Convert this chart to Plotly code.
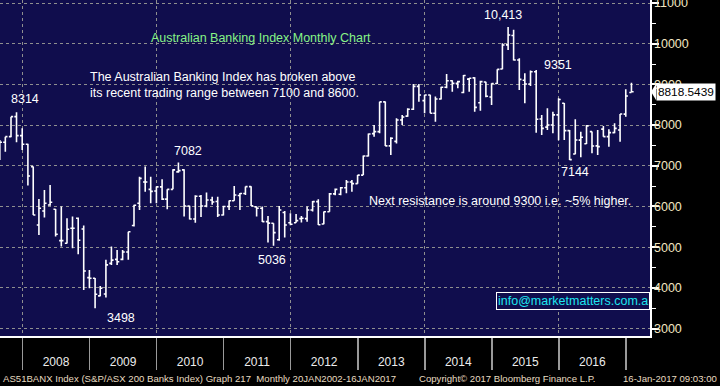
import pandas as pd
import plotly.graph_objects as go

# Monthly bars, Aug 2007 - Jan 2017 (month-end dated)
months = pd.date_range("2007-09-01", periods=114, freq="MS") - pd.Timedelta(days=1)

open_ = [7400, 7577, 7716, 8207, 7740, 7527, 6979, 5545, 5890, 6037,
         5930, 5161, 5095, 5464, 5709, 5447, 4251, 4235, 3801, 3850,
         4600, 4700, 4700, 4880, 5530, 6080, 6600, 6420, 6380, 6480,
         6180, 6420, 6850, 6900, 6010, 5690, 6250, 6010, 6160, 6120,
         5790, 6000, 6140, 6270, 6320, 6487, 5990, 5955, 5627, 5586,
         5180, 5850, 5600, 5600, 5700, 5700, 5914, 6119, 5570, 5870,
         6310, 6300, 6460, 6600, 6560, 6770, 7240, 7790, 7840, 8570,
         7490, 7600, 8125, 8220, 8390, 8950, 8600, 8740, 8290, 8640,
         8930, 9090, 9026, 8800, 9130, 9160, 8550, 9060, 8690, 9020,
         9380, 9970, 10200, 9600, 9100, 9010, 9310, 8150, 7950, 8000,
         8250, 8535, 7863, 7290, 7630, 7540, 7839, 7490, 7900, 7716,
         7814, 7880, 8270, 8800]
high = [7634, 7716, 8207, 8314, 7921, 7540, 6980, 6184, 6405, 6528,
        5940, 5996, 5709, 5750, 5726, 5529, 4440, 4240, 4047, 4690,
        5013, 4930, 4930, 5380, 6040, 6730, 6980, 6730, 6490, 6670,
        6420, 6913, 7082, 6915, 6020, 6275, 6280, 6340, 6240, 6240,
        6020, 6145, 6504, 6330, 6490, 6495, 6000, 5996, 5766, 5590,
        6012, 5890, 5832, 5816, 5766, 5996, 6135, 6176, 5873, 6330,
        6440, 6480, 6651, 6651, 6774, 7250, 7790, 8002, 8576, 8580,
        7700, 8166, 8250, 8412, 9010, 9010, 8745, 8745, 8700, 8940,
        9256, 9100, 9092, 9231, 9160, 9174, 9092, 9067, 9026, 9370,
        10010, 10413, 10340, 9640, 9272, 9340, 9351, 8250, 8412, 8330,
        8660, 8540, 7880, 8142, 7839, 8002, 7840, 7880, 7980, 7896,
        8043, 8273, 8880, 9043]
low = [7143, 7347, 7700, 7577, 7388, 6512, 5791, 5300, 5726, 6020,
       5259, 5013, 5090, 4972, 4825, 3948, 3989, 3498, 3795, 3760,
       4560, 4560, 4680, 4690, 5510, 5915, 6360, 6080, 6080, 6160,
       5930, 6420, 6830, 5750, 5680, 5600, 5740, 5980, 6040, 5740,
       5775, 5915, 6140, 5915, 6280, 6010, 5750, 5620, 5111, 5036,
       5160, 5234, 5540, 5600, 5603, 5627, 5873, 5545, 5560, 5870,
       6275, 6275, 6323, 6364, 6560, 6770, 7225, 7716, 7800, 7486,
       7265, 7550, 8002, 8207, 8370, 8576, 8290, 8290, 8084, 8630,
       8903, 8821, 8903, 8780, 8821, 8330, 8354, 8682, 8494, 9010,
       9370, 9845, 9590, 8862, 8535, 8960, 7814, 7757, 7880, 7800,
       7630, 7634, 7144, 7280, 7208, 7536, 7306, 7265, 7716, 7470,
       7800, 7593, 8207, 8800]
close = [7577, 7716, 8207, 7740, 7527, 6750, 5791, 5955, 6078, 6102,
         5316, 5161, 5439, 5464, 5169, 4415, 4235, 3842, 3989, 4563,
         4680, 4640, 4880, 5380, 6030, 6690, 6600, 6370, 6480, 6180,
         6420, 6900, 6880, 6010, 5690, 6250, 6010, 6160, 6110, 5790,
         6000, 6140, 6283, 6320, 6487, 6015, 5955, 5627, 5590, 5357,
         5914, 5545, 5562, 5652, 5710, 5914, 6119, 5550, 5870, 6310,
         6420, 6460, 6600, 6560, 6770, 7240, 7780, 7840, 8570, 7490,
         7675, 8125, 8200, 8390, 8950, 8740, 8740, 8290, 8640, 8930,
         9090, 9026, 9067, 9220, 9150, 8436, 9067, 8710, 9020, 9370,
         9968, 10214, 9600, 9124, 9010, 9310, 8142, 7920, 8000, 8250,
         8630, 7863, 7150, 7634, 7700, 7980, 7487, 7470, 7716, 7814,
         7920, 8273, 8715, 8818.5439]

last_price = close[-1]
y_ticks = [3000, 4000, 5000, 6000, 7000, 8000, 9000, 10000, 11000]

NAVY = "#100d4d"
GRID = "#8f8f8f"
CREAM = "#f2e6c0"
FONT = "Arial, Liberation Sans, sans-serif"

fig = go.Figure()
fig.add_trace(go.Ohlc(
    x=months, open=open_, high=high, low=low, close=close,
    increasing=dict(line=dict(color="white", width=1.6)),
    decreasing=dict(line=dict(color="white", width=1.6)),
    tickwidth=0.42, showlegend=False, hoverinfo="skip",
))
# helper trace so the 2-year grid axis exists
fig.add_trace(go.Scatter(x=[months[0]], y=[None], xaxis="x2", yaxis="y",
                         showlegend=False, hoverinfo="skip", mode="markers"))

fig.update_layout(
    width=720, height=386,
    margin=dict(l=0, r=70, t=0, b=50, autoexpand=False),
    paper_bgcolor="black", plot_bgcolor=NAVY,
    font=dict(family=FONT, color="white", size=12),
    showlegend=False,
    xaxis=dict(
        type="date", range=["2007-09-01", "2017-05-12"], automargin=False,
        rangeslider=dict(visible=False),
        showgrid=False, zeroline=False,
        showline=True, linecolor="white", linewidth=1.5,
        dtick="M12", tick0="2008-01-01", tickformat="%Y",
        ticklabelmode="period",
        ticks="outside", ticklen=32, tickcolor="#9a9a9a", tickwidth=1.5,
        ticklabelstandoff=-18, ticklabeloverflow="allow",
        tickfont=dict(family=FONT, size=12, color="#ececec"),
    ),
    xaxis2=dict(
        type="date", overlaying="x", matches="x", anchor="y", automargin=False,
        showgrid=True, gridcolor=GRID, griddash="dot", gridwidth=1,
        dtick="M24", tick0="2008-01-01",
        showticklabels=False, ticks="", showline=False, zeroline=False,
    ),
    yaxis=dict(
        side="right", range=[2816, 11074], automargin=False,
        tickvals=y_ticks, ticktext=[str(v) for v in y_ticks],
        showgrid=True, gridcolor=GRID, griddash="dot", gridwidth=1,
        zeroline=False,
        showline=True, linecolor="white", linewidth=1.5,
        ticks="outside", ticklen=7, tickwidth=2, tickcolor="white",
        ticklabelstandoff=-7, ticklabeloverflow="allow",
        minor=dict(dtick=500, tick0=2500, ticks="outside", ticklen=4,
                   tickcolor="white", tickwidth=1, showgrid=False),
        tickfont=dict(family=FONT, size=12.5, color=CREAM),
    ),
)

def px(x):
    return x / 650.0

def py(y):
    return 1 - y / 336.0

notes = [
    ("Australian Banking Index Monthly Chart", 149, 38, "#86f486"),
    ("The Australian Banking Index has broken above<br>its recent trading range between 7100 and 8600.", 88, 85, "white"),
    ("8314", 9, 99, "white"),
    ("7082", 172, 151, "white"),
    ("3498", 105, 318, "white"),
    ("5036", 256, 260, "white"),
    ("10,413", 482, 15, "white"),
    ("9351", 542, 65, "white"),
    ("7144", 559, 172, "white"),
    ("Next resistance is around 9300 i.e. ~5% higher.", 367, 201, "white"),
]
for text, x, y, col in notes:
    fig.add_annotation(text=text, xref="paper", yref="paper", x=px(x), y=py(y),
                       xanchor="left", yanchor="middle", align="left",
                       showarrow=False, font=dict(family=FONT, size=12.5, color=col))

# email box
fig.add_annotation(text="info@marketmatters.com.a", xref="paper", yref="paper",
                   x=1.0, y=py(300.5), xanchor="right", yanchor="middle",
                   showarrow=False, bordercolor="white", borderwidth=1, borderpad=1,
                   bgcolor=NAVY, font=dict(family=FONT, size=12.5, color="#1ee6f0"))

# last price tag
fig.add_shape(type="path", xref="paper", yref="y", layer="above",
              path=f"M {px(651)},{last_price} L {px(656)},{last_price + 200} L {px(656)},{last_price - 200} Z",
              fillcolor="white", line=dict(color="white", width=0))
fig.add_annotation(text=f"{last_price:.4f}", xref="paper", yref="y",
                   x=px(655.5), y=last_price, xanchor="left", yanchor="middle",
                   showarrow=False, bgcolor="white", borderpad=1,
                   font=dict(family=FONT, size=11.8, color="black"))

# footer
foot = dict(family="Liberation Sans, Arial, sans-serif", size=9.6, color="#e8dcc0")
fig.add_annotation(text="AS51BANX Index (S&P/ASX 200 Banks Index) Graph 217  Monthly 20JAN2002-16JAN2017",
                   xref="paper", yref="paper", x=px(1), y=py(378), xanchor="left", yanchor="middle",
                   showarrow=False, font=foot)
fig.add_annotation(text="Copyright\u00a9 2017 Bloomberg Finance L.P.",
                   xref="paper", yref="paper", x=px(417), y=py(378), xanchor="left", yanchor="middle",
                   showarrow=False, font=foot)
fig.add_annotation(text="16-Jan-2017 09:03:00",
                   xref="paper", yref="paper", x=px(719), y=py(378), xanchor="right", yanchor="middle",
                   showarrow=False, font=foot)

fig.write_html("out.html",
               config={"displayModeBar": False, "staticPlot": True},
               post_script="document.body.style.margin='0';document.body.style.overflow='hidden';")
